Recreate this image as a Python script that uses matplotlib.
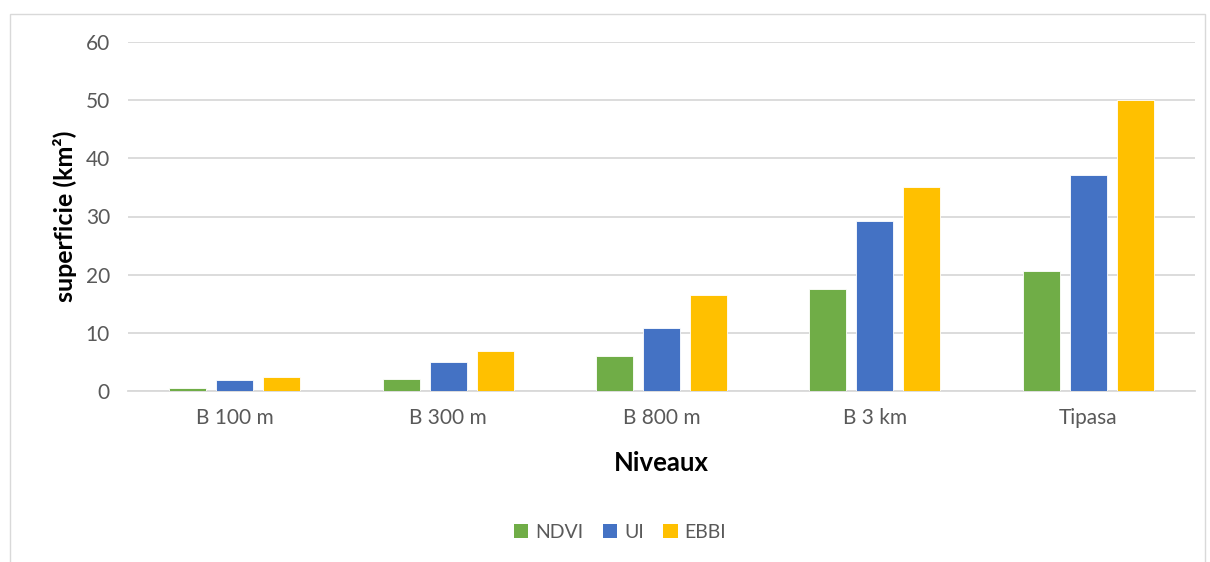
import matplotlib
matplotlib.use("Agg")
import matplotlib.pyplot as plt
from matplotlib.patches import Rectangle, Patch
import numpy as np

categories = ["B 100 m", "B 300 m", "B 800 m", "B 3 km", "Tipasa"]
series_names = ["NDVI", "UI", "EBBI"]
ndvi = [0.5, 2.0, 6.0, 17.6, 20.6]
ui = [1.95, 5.0, 10.8, 29.2, 37.2]
ebbi = [2.4, 6.9, 16.5, 35.1, 50.1]
colors = ["#70AD47", "#4472C4", "#FFC000"]
yticks = [0, 10, 20, 30, 40, 50, 60]

plt.rcParams['font.family'] = ['Lato', 'DejaVu Sans']

W, H = 1210, 562
fig = plt.figure(figsize=(W / 100, H / 100), dpi=100)
# outer chart border
fig.patches.append(Rectangle((10 / W, -0.05), (1205 - 10) / W, (H - 14) / H + 0.05,
                             transform=fig.transFigure, fill=False,
                             edgecolor="#d9d9d9", linewidth=1.0))

ax = fig.add_axes([128 / W, 1 - 391 / H, (1195 - 128) / W, (391 - 42) / H])
x = np.arange(len(categories))
bw = 0.173
off = 0.22
for i, (vals, c) in enumerate(zip([ndvi, ui, ebbi], colors)):
    ax.bar(x + (i - 1) * off, vals, width=bw, color=c, edgecolor="white",
           linewidth=0.6, zorder=3, label=series_names[i])

ax.set_xlim(-0.5, len(categories) - 0.5)
ax.set_ylim(0, 60)
ax.set_yticks(yticks)
ax.set_xticks(x)
ax.set_xticklabels(categories)
ax.grid(axis="y", color="#d9d9d9", linewidth=1.3, zorder=0)
for s in ["top", "right", "left"]:
    ax.spines[s].set_visible(False)
ax.spines["bottom"].set_color("#d9d9d9")
ax.spines["bottom"].set_linewidth(1.3)
ax.tick_params(axis="both", length=0, labelsize=15, colors="#595959")
ax.tick_params(axis="y", pad=13)
ax.tick_params(axis="x", pad=12)
ax.set_ylabel("superficie (km²)", fontsize=18, fontweight="bold", color="black", labelpad=6)
ax.set_xlabel("Niveaux", fontsize=18.5, fontweight="bold", color="black", labelpad=17)

handles = [Patch(facecolor=c, label=n) for c, n in zip(colors, series_names)]
fig.legend(handles=handles, loc="center", bbox_to_anchor=(620 / W, 1 - 532 / H),
           ncol=3, frameon=False, fontsize=14, handlelength=0.75, handleheight=0.75,
           handletextpad=0.35, columnspacing=1.0, labelcolor="#595959")

fig.savefig("out.png", dpi=100)
